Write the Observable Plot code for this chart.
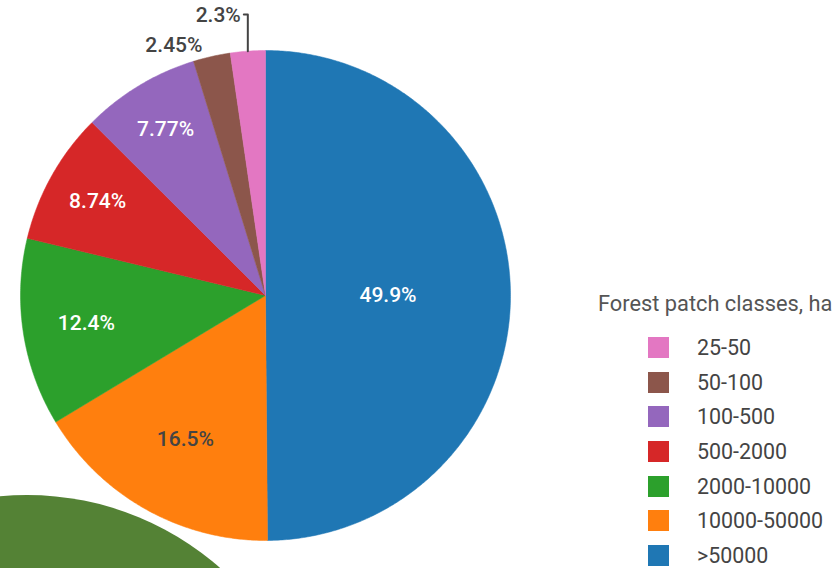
<!DOCTYPE html>
<html>
<head>
<meta charset="utf-8">
<script src="https://cdn.jsdelivr.net/npm/d3@7"></script>
<script src="https://cdn.jsdelivr.net/npm/@observablehq/plot@0.6"></script>
<style>
  html, body { margin: 0; padding: 0; background: #fff; overflow: hidden; }
  #wrap { position: relative; width: 839px; height: 568px; overflow: hidden; font-family: Roboto, "Noto Sans", sans-serif; }
  #blob { position: absolute; left: -265px; top: 495px; width: 584px; height: 584px; border-radius: 50%; background: #548235; z-index: 0; }
  #chart { position: absolute; left: 0; top: 0; z-index: 1; }
  #chart svg { background: transparent !important; }
  #legend { position: absolute; left: 598px; top: 292px; z-index: 2; }
  #legend .title { font-size: 21.8px; line-height: 24px; color: #555; white-space: nowrap; }
  #legend .rows { position: absolute; left: 50px; top: 38px; }
  #legend .row { height: 34.7px; display: flex; align-items: center; white-space: nowrap; }
  #legend .sw { width: 21px; height: 21px; margin-right: 28px; }
  #legend .lab { font-size: 21.4px; color: #444; }
</style>
</head>
<body>
<div id="wrap">
  <div id="blob"></div>
  <div id="chart"></div>
  <div id="legend"></div>
</div>
<script>
// ---- data ----
const classes = [">50000", "10000-50000", "2000-10000", "500-2000", "100-500", "50-100", "25-50"];
const shares  = [49.9, 16.5, 12.4, 8.74, 7.77, 2.45, 2.3];
const labels  = ["49.9%", "16.5%", "12.4%", "8.74%", "7.77%", "2.45%", "2.3%"];
const colors  = ["#1f77b4", "#ff7f0e", "#2ca02c", "#d62728", "#9467bd", "#8c564b", "#e377c2"];
const legendOrder = ["25-50", "50-100", "100-500", "500-2000", "2000-10000", "10000-50000", ">50000"];
const legendTitle = "Forest patch classes, ha";

// ---- layout (style, not data) ----
const W = 839, H = 568, CX = 265, CY = 295, R = 245;
const labelRadius = [0.5, 0.67, 0.74, 0.785, 0.79, 1.06, null];
const labelFill = ["#fff", "#444", "#fff", "#fff", "#fff", "#444", "#444"];

const total = d3.sum(shares);
const slices = [];
let acc = 0;
shares.forEach((v, i) => {
  const a0 = acc / total * 2 * Math.PI;
  acc += v;
  const a1 = acc / total * 2 * Math.PI;
  slices.push({cls: classes[i], a0, a1, mid: (a0 + a1) / 2, i});
});

// polygon outlines of wedges (angle clockwise from top)
const pts = [];
for (const s of slices) {
  pts.push({cls: s.cls, x: 0, y: 0});
  const n = Math.max(2, Math.ceil((s.a1 - s.a0) / (Math.PI / 360)));
  for (let k = 0; k <= n; k++) {
    const a = s.a0 + (s.a1 - s.a0) * k / n;
    pts.push({cls: s.cls, x: Math.sin(a), y: Math.cos(a)});
  }
  pts.push({cls: s.cls, x: 0, y: 0});
}

// labels
const inside = [], outside = [];
slices.forEach((s, i) => {
  if (labelRadius[i] == null) return;
  const d = {
    x: labelRadius[i] * Math.sin(s.mid),
    y: labelRadius[i] * Math.cos(s.mid),
    t: labels[i], fill: labelFill[i]
  };
  (labelRadius[i] > 1 ? outside : inside).push(d);
});
// leader for smallest slice
const last = slices[slices.length - 1];
const lx = Math.sin(last.mid);
const ly = Math.cos(last.mid);
const topY = (CY - 14) / R;
const leader = [
  {x: lx, y: ly},
  {x: lx, y: topY},
  {x: lx - 4 / R, y: topY}
];
const leaderLabel = [{x: lx - 7 / R, y: topY, t: labels[labels.length - 1]}];

const chart = Plot.plot({
  width: W, height: H,
  marginTop: 0, marginRight: 0, marginBottom: 0, marginLeft: 0,
  style: {background: "transparent", fontFamily: "Roboto, sans-serif"},
  x: {domain: [-CX / R, (W - CX) / R], axis: null},
  y: {domain: [-(H - CY) / R, CY / R], axis: null},
  color: {domain: classes, range: colors},
  marks: [
    Plot.line(pts, {x: "x", y: "y", z: "cls", fill: "cls", stroke: "cls", strokeWidth: 0.5, curve: "linear"}),
    Plot.text(inside, {x: "x", y: "y", text: "t", fill: d => d.fill, textAnchor: "middle", fontSize: 21, fontWeight: 500}),
    Plot.text(outside, {x: "x", y: "y", text: "t", fill: d => d.fill, textAnchor: "end", dx: -6, dy: 3, fontSize: 21, fontWeight: 500}),
    Plot.line(leader, {x: "x", y: "y", stroke: "#444", strokeWidth: 2}),
    Plot.text(leaderLabel, {x: "x", y: "y", text: "t", fill: "#444", textAnchor: "end", dy: 1, fontSize: 21, fontWeight: 500})
  ]
});
document.getElementById("chart").appendChild(chart);

// legend (HTML)
const color = d3.scaleOrdinal(classes, colors);
const lg = document.getElementById("legend");
const title = document.createElement("div");
title.className = "title";
title.textContent = legendTitle;
lg.appendChild(title);
const rows = document.createElement("div");
rows.className = "rows";
for (const c of legendOrder) {
  const row = document.createElement("div");
  row.className = "row";
  const sw = document.createElement("div");
  sw.className = "sw";
  sw.style.background = color(c);
  const lab = document.createElement("span");
  lab.className = "lab";
  lab.textContent = c;
  row.appendChild(sw);
  row.appendChild(lab);
  rows.appendChild(row);
}
lg.appendChild(rows);
</script>
</body>
</html>
